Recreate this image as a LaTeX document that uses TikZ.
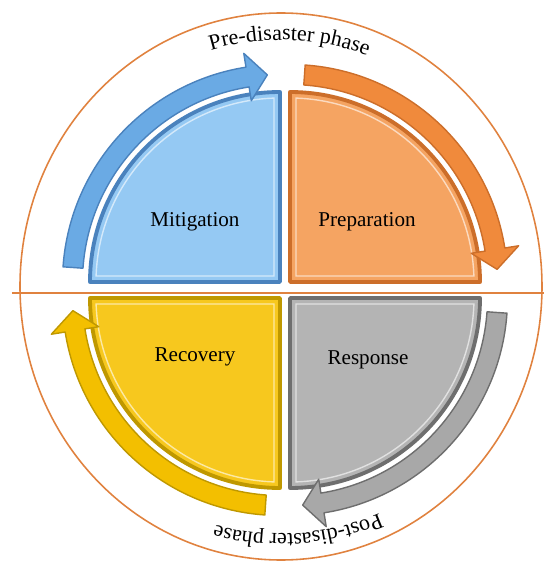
\documentclass[tikz,border=0pt]{standalone}
\usepackage{fontspec}
\setmainfont{Liberation Serif}
\usetikzlibrary{decorations.text}

\definecolor{mitfill}{HTML}{95C9F3}
\definecolor{mitedge}{HTML}{4A82BD}
\definecolor{mitflow}{HTML}{6AAAE4}
\definecolor{prepfill}{HTML}{F5A462}
\definecolor{prepedge}{HTML}{CC6E2A}
\definecolor{prepflow}{HTML}{F08A3C}
\definecolor{respfill}{HTML}{B4B4B4}
\definecolor{respedge}{HTML}{6E6E6E}
\definecolor{respflow}{HTML}{A8A8A8}
\definecolor{recfill}{HTML}{F7C81E}
\definecolor{recedge}{HTML}{BF9800}
\definecolor{recflow}{HTML}{F3BF00}
\definecolor{ringline}{HTML}{E0823F}

\begin{document}
\begin{tikzpicture}[font=\fontsize{12}{14}\selectfont,
    phase/.style={line width=2.2pt, line join=round},
    flow/.style={line width=0.8pt, line join=round},
    ring/.style={ringline, line width=0.9pt}]
    \useasboundingbox (-5.7,-5.54) rectangle (5.18,5.8);
    \draw[ring] (-0.08,0.07) ellipse [x radius=5.22, y radius=5.47];
    \coordinate (split west) at (-5.46,-0.06);
    \coordinate (split east) at (5.18,-0.06);
    \draw[ring] (split west) -- (split east);

    \foreach \ang/\cx/\cy/\fil/\edg/\flw in {0/0.1/0.16/prepfill/prepedge/prepflow,
        90/-0.1/0.16/mitfill/mitedge/mitflow,
        180/-0.1/-0.16/recfill/recedge/recflow,
        -90/0.1/-0.16/respfill/respedge/respflow}{
        \begin{scope}[shift={(\cx,\cy)}, rotate=\ang]
            \draw[phase, fill=\fil, draw=\edg]
                (0,0) -- (0:3.8) arc[start angle=0, end angle=90, radius=3.8] -- cycle;
            \draw[white, opacity=0.6, line width=0.8pt]
                (0.12,0.12) -- (1.87:3.68) arc[start angle=1.87, end angle=88.13, radius=3.68] -- cycle;
            \draw[flow, fill=\flw, draw=\edg]
                (86:3.95) arc[start angle=86, end angle=9, radius=3.95]
                -- (9:3.67) -- (3.5:4.15) -- (9:4.63) -- (9:4.35)
                arc[start angle=9, end angle=86, radius=4.35] -- cycle;
        \end{scope}
    }

    \node (mitig) at (-1.8,1.36) {Mitigation};
    \node (prep) at (1.64,1.36) {Preparation};
    \node (recov) at (-1.8,-1.34) {Recovery};
    \node (resp) at (1.66,-1.4) {Response};

    \begin{scope}[shift={(-0.08,0.07)}]
        \path[decorate, decoration={text along path, text align=center,
            text={|\fontsize{12.5}{14}\selectfont|Pre-disaster phase}}]
            (118:4.93) arc[start angle=118, end angle=58, radius=4.93];
        \path[decorate, decoration={text along path, text align=center,
            text={|\fontsize{12.5}{14}\selectfont|Post-disaster phase}}]
            (304:4.95) arc[start angle=304, end angle=244, radius=4.95];
    \end{scope}
\end{tikzpicture}
\end{document}
